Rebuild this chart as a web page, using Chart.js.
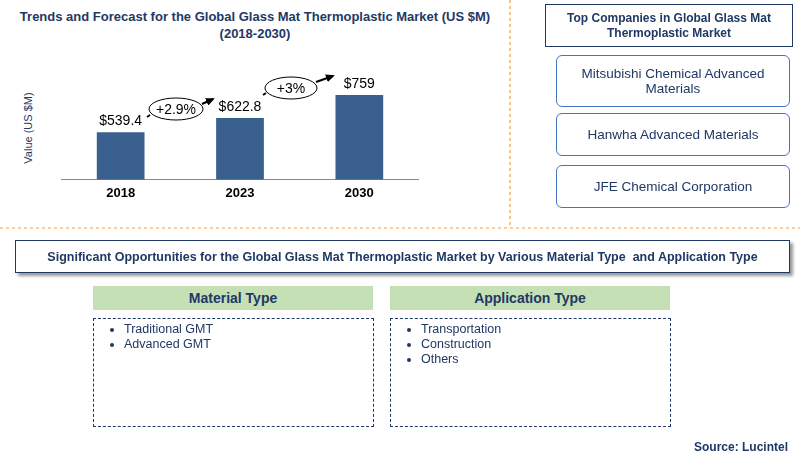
<!DOCTYPE html>
<html>
<head>
<meta charset="utf-8">
<script src="https://cdn.jsdelivr.net/npm/chart.js@4"></script>
<style>
  body { margin: 0; width: 800px; height: 462px; background: #fff; font-family: Arial, "Liberation Sans", sans-serif; position: relative; overflow: hidden; }
  .abs { position: absolute; }
  .title { left: 0; top: 8px; width: 510px; text-align: center; font-weight: bold; font-size: 13px; color: #1f3864; line-height: 17px; }
  .ylab { left: -22px; top: 122px; transform: rotate(-90deg); font-size: 11px; color: #1f3864; width: 100px; text-align: center; }
  .hdr { left: 545px; top: 4px; width: 246px; height: 41px; border: 1.5px solid #1f3864; font-weight: bold; font-size: 12px; color: #1f3864; text-align: center; display: flex; align-items: center; justify-content: center; line-height: 15px; }
  .comp { left: 556px; width: 232px; border: 1.5px solid #4472c4; border-radius: 6px; font-size: 13.5px; color: #1f3864; text-align: center; display: flex; align-items: center; justify-content: center; line-height: 15px; }
  .opp { left: 15px; top: 240px; width: 773px; height: 31px; border: 1px solid #1f3864; box-shadow: 3px 3px 3px #999; font-weight: bold; font-size: 12.5px; color: #1f3864; display: flex; align-items: center; justify-content: center; }
  .green { top: 286px; width: 280px; height: 24px; background: #c5e0b4; font-weight: bold; font-size: 14px; color: #1f3864; text-align: center; line-height: 24px; }
  .list { top: 318px; width: 279px; height: 107px; border: 1px dashed #1f3864; font-size: 12.5px; color: #1f3864; }
  .list ul { margin: 3px 0 0 0; padding-left: 30px; }
  .list li { line-height: 15px; }
  .src { right: 12px; top: 440px; font-weight: bold; font-size: 12px; color: #1f3864; }
</style>
</head>
<body>
<div class="abs title">Trends and Forecast for the Global Glass Mat Thermoplastic Market (US $M)<br>(2018-2030)</div>
<div class="abs ylab">Value (US $M)</div>
<div class="abs" style="left:61px;top:40px;width:358px;height:167px;"><canvas id="chart"></canvas></div>
<svg class="abs" style="left:0;top:0" width="800" height="462">
  <line x1="510" y1="0" x2="510" y2="228" stroke="#f0a030" stroke-width="1.2" stroke-dasharray="3,3"/>
  <line x1="0" y1="228" x2="800" y2="228" stroke="#f0a030" stroke-width="1.2" stroke-dasharray="3,3"/>
  <defs><marker id="ah" markerUnits="userSpaceOnUse" markerWidth="9" markerHeight="8" refX="7" refY="4" orient="auto"><path d="M0,0 L9,4 L0,8 z" fill="#000"/></marker></defs>
  <line x1="147" y1="117" x2="150" y2="115" stroke="#000" stroke-width="2"/>
  <ellipse cx="176" cy="109" rx="27" ry="11" fill="#fff" stroke="#000" stroke-width="1"/>
  <text x="176" y="114" font-size="14" text-anchor="middle" font-family="Arial">+2.9%</text>
  <line x1="202" y1="104" x2="213" y2="99" stroke="#000" stroke-width="2" marker-end="url(#ah)"/>
  <line x1="263" y1="95" x2="266" y2="93" stroke="#000" stroke-width="2"/>
  <ellipse cx="291" cy="88" rx="26" ry="11" fill="#fff" stroke="#000" stroke-width="1"/>
  <text x="291" y="93" font-size="14" text-anchor="middle" font-family="Arial">+3%</text>
  <line x1="316" y1="82" x2="333" y2="76" stroke="#000" stroke-width="2" marker-end="url(#ah)"/>
</svg>
<div class="abs hdr">Top Companies in Global Glass Mat<br>Thermoplastic Market</div>
<div class="abs comp" style="top:55px;height:50px;">Mitsubishi Chemical Advanced<br>Materials</div>
<div class="abs comp" style="top:113px;height:41px;">Hanwha Advanced Materials</div>
<div class="abs comp" style="top:165px;height:41px;">JFE Chemical Corporation</div>
<div class="abs opp">Significant Opportunities for the Global Glass Mat Thermoplastic Market by Various Material Type&nbsp; and Application Type</div>
<div class="abs green" style="left:93px;">Material Type</div>
<div class="abs green" style="left:390px;">Application Type</div>
<div class="abs list" style="left:93px;"><ul><li>Traditional GMT</li><li>Advanced GMT</li></ul></div>
<div class="abs list" style="left:390px;"><ul><li>Transportation</li><li>Construction</li><li>Others</li></ul></div>
<div class="abs src">Source: Lucintel</div>
<script>
const years = ['2018', '2023', '2030'];
const marketValues = [539.4, 622.8, 759];
const valueLabels = ['$539.4', '$622.8', '$759'];

const barLabels = {
  id: 'barLabels',
  afterDatasetsDraw(chart) {
    const ctx = chart.ctx;
    ctx.save();
    ctx.font = '14px Arial';
    ctx.fillStyle = '#000';
    ctx.textAlign = 'center';
    chart.getDatasetMeta(0).data.forEach(function (bar, i) {
      ctx.fillText(valueLabels[i], bar.x, bar.y - 7);
    });
    ctx.restore();
  }
};

new Chart(document.getElementById('chart'), {
  type: 'bar',
  data: {
    labels: years,
    datasets: [{
      data: marketValues,
      backgroundColor: '#3a6090',
      barPercentage: 0.4,
      categoryPercentage: 1
    }]
  },
  plugins: [barLabels],
  options: {
    responsive: true,
    maintainAspectRatio: false,
    animation: false,
    layout: { padding: 0 },
    plugins: { legend: { display: false }, tooltip: { enabled: false } },
    scales: {
      y: { display: false, min: 260, max: 1085 },
      x: {
        grid: { display: false, drawTicks: false },
        border: { color: '#888' },
        ticks: { color: '#000', font: { size: 13, weight: 'bold', family: 'Arial' }, padding: 6 }
      }
    }
  }
});
</script>
</body>
</html>
